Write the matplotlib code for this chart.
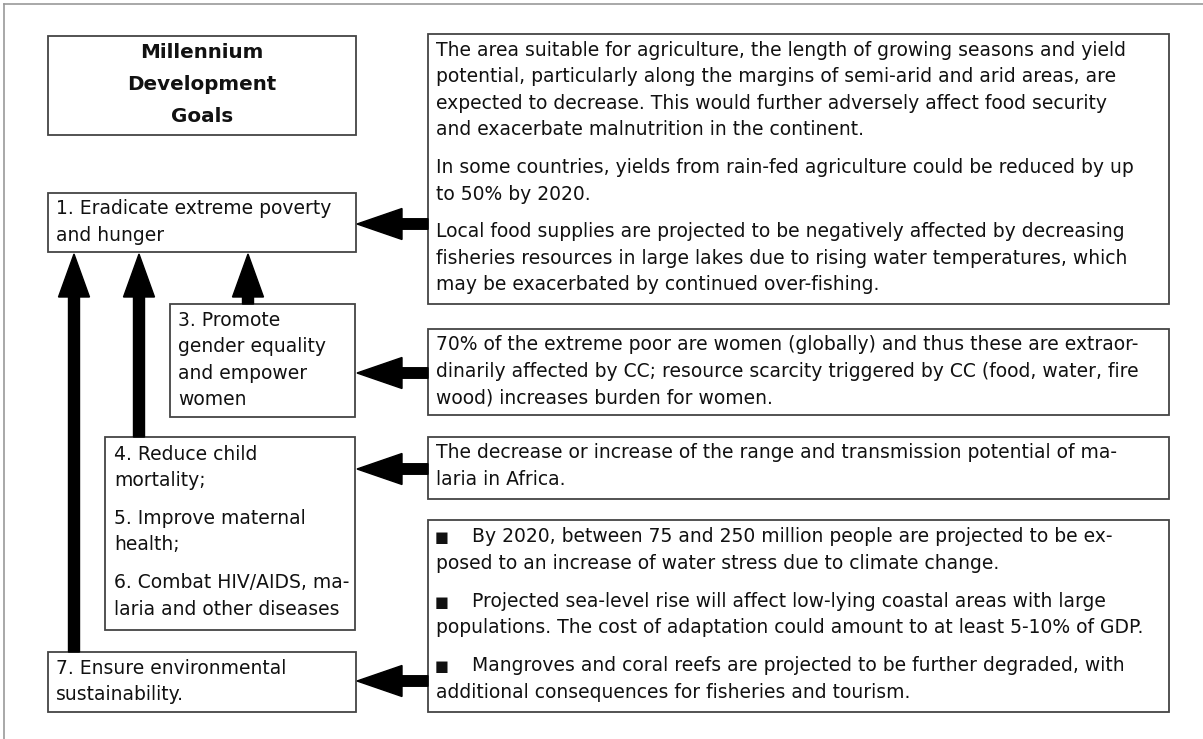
import matplotlib
matplotlib.use("Agg")
import matplotlib.pyplot as plt
from matplotlib.patches import Rectangle

# --- content ---------------------------------------------------------------
title_lines = ["Millennium", "Development", "Goals"]

goal1 = [["1. Eradicate extreme poverty", "and hunger"]]
goal3 = [["3. Promote", "gender equality", "and empower", "women"]]
goal456 = [["4. Reduce child", "mortality;"],
           ["5. Improve maternal", "health;"],
           ["6. Combat HIV/AIDS, ma-", "laria and other diseases"]]
goal7 = [["7. Ensure environmental", "sustainability."]]

impact_food = [
    ["The area suitable for agriculture, the length of growing seasons and yield",
     "potential, particularly along the margins of semi-arid and arid areas, are",
     "expected to decrease. This would further adversely affect food security",
     "and exacerbate malnutrition in the continent."],
    ["In some countries, yields from rain-fed agriculture could be reduced by up",
     "to 50% by 2020."],
    ["Local food supplies are projected to be negatively affected by decreasing",
     "fisheries resources in large lakes due to rising water temperatures, which",
     "may be exacerbated by continued over-fishing."],
]
impact_women = [
    ["70% of the extreme poor are women (globally) and thus these are extraor-",
     "dinarily affected by CC; resource scarcity triggered by CC (food, water, fire",
     "wood) increases burden for women."],
]
impact_health = [
    ["The decrease or increase of the range and transmission potential of ma-",
     "laria in Africa."],
]
impact_env = [
    ["By 2020, between 75 and 250 million people are projected to be ex-",
     "posed to an increase of water stress due to climate change."],
    ["Projected sea-level rise will affect low-lying coastal areas with large",
     "populations. The cost of adaptation could amount to at least 5-10% of GDP."],
    ["Mangroves and coral reefs are projected to be further degraded, with",
     "additional consequences for fisheries and tourism."],
]

# --- layout (pixel space, y downwards) -------------------------------------
W, H = 1203, 739
fig = plt.figure(figsize=(W / 100, H / 100), dpi=100)
ax = fig.add_axes([0, 0, 1, 1])
ax.set_xlim(0, W)
ax.set_ylim(H, 0)
ax.axis("off")

FS = 13.5
LH = 26.6      # line height
PGAP = 11      # extra gap between paragraphs
EDGE = "#444444"
INK = "#111111"

# outer frame (top and left only visible)
ax.plot([4, W], [4, 4], color="#999999", lw=1.2)
ax.plot([4, 4], [4, H], color="#999999", lw=1.2)


def box(x0, y0, x1, y1):
    ax.add_patch(Rectangle((x0, y0), x1 - x0, y1 - y0, fill=False,
                           ec=EDGE, lw=1.3, zorder=2))


def paras(x, y, blocks, bullet=False):
    for block in blocks:
        for i, line in enumerate(block):
            tx = x
            if bullet and i == 0:
                ax.text(x - 1, y + 1, "\u25A0", fontsize=10.5, va="center",
                        ha="left", color=INK)
                tx = x + 36
            ax.text(tx, y, line, fontsize=FS, va="center", ha="left",
                    color=INK)
            y += LH
        y += PGAP


def harrow(x_from, x_to, y):
    ax.arrow(x_from, y, x_to - x_from, 0, width=10.5, head_width=31,
             head_length=45, length_includes_head=True, fc="black",
             ec="black", zorder=3)


def varrow(x, y_from, y_to):
    ax.arrow(x, y_from, 0, y_to - y_from, width=11, head_width=31,
             head_length=43, length_includes_head=True, fc="black",
             ec="black", zorder=3)


# left column
box(48, 36, 356, 135)
for i, t in enumerate(title_lines):
    ax.text(202, 53 + i * 32, t, fontsize=14.3, fontweight="bold",
            ha="center", va="center", color=INK)

box(48, 193, 356, 252)
paras(56, 209, goal1)

box(170, 304, 355, 417)
paras(178, 320, goal3)

box(105, 437, 355, 630)
paras(114, 454, goal456)

box(48, 652, 356, 712)
paras(56, 668, goal7)

# right column
box(428, 34, 1169, 304)
paras(436, 50, impact_food)

box(428, 329, 1169, 415)
paras(436, 345, impact_women)

box(428, 437, 1169, 499)
paras(436, 453, impact_health)

box(428, 520, 1169, 712)
paras(436, 537, impact_env, bullet=True)

# arrows into the goals
harrow(428, 357, 224)
harrow(428, 357, 373)
harrow(428, 357, 469)
harrow(428, 357, 681)

varrow(74, 652, 254)
varrow(139, 437, 254)
varrow(248, 304, 254)

fig.savefig("out.png", dpi=100)
